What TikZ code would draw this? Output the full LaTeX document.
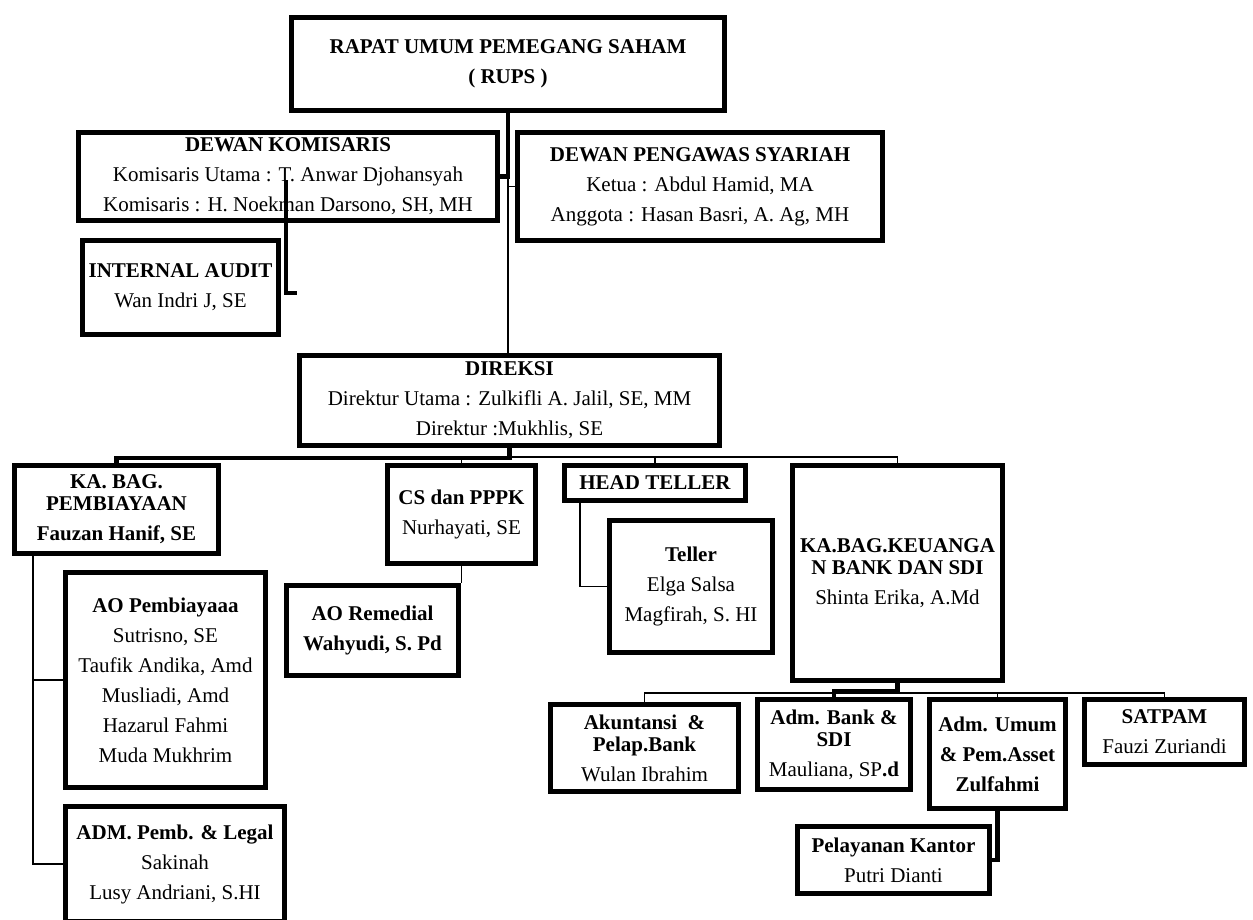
\documentclass[tikz,border=0pt]{standalone}
\usepackage{fontspec}
\setmainfont{Liberation Serif}

\tikzset{
  box/.style={draw, line width=3.2pt, inner sep=0pt, align=center,
              font=\fontsize{12.6}{18}\selectfont},
  thinln/.style={line width=0.9pt},
  thickln/.style={line width=2.8pt},
}

% \orgbox{name}{left}{top}{right}{bottom}{text}: a framed box given by its outer edges
\newcommand\orgbox[6]{%
  \pgfmathsetmacro\orgbw{(#4-#2-5.3)*0.6}%
  \pgfmathsetmacro\orgbh{(#5-#3-5.3)*0.6}%
  \node[box, minimum width=\orgbw pt, minimum height=\orgbh pt]
    (#1) at ({(#2+#4)/2},{(#3+#5)/2}) {#6};}

\begin{document}
\begin{tikzpicture}[x=0.6pt, y=-0.6pt]
  \fill[white] (0,0) rectangle (1253,919);
  \useasboundingbox (0,0) rectangle (1253,919);
  \clip (0,0) rectangle (1253,919);

  % boxes
  \orgbox{rups}{289}{15}{727}{113}{\textbf{RAPAT UMUM PEMEGANG SAHAM}\\\textbf{( RUPS )}}
  \orgbox{kom}{76}{130}{500}{223}{\textbf{DEWAN KOMISARIS}\\Komisaris Utama : T. Anwar Djohansyah\\Komisaris : H. Noekman Darsono, SH, MH}
  \orgbox{dps}{515}{130}{885}{243}{\textbf{DEWAN PENGAWAS SYARIAH}\\Ketua : Abdul Hamid, MA\\Anggota : Hasan Basri, A. Ag, MH}
  \orgbox{audit}{80}{238}{281}{337}{\textbf{INTERNAL AUDIT}\\Wan Indri J, SE}
  \orgbox{direksi}{297}{353}{722}{448}{\textbf{DIREKSI}\\Direktur Utama : Zulkifli A. Jalil, SE, MM\\Direktur :Mukhlis, SE}
  \orgbox{kabag}{12}{463}{221}{556}{\textbf{KA. BAG.}\\[-4.8pt]\textbf{PEMBIAYAAN}\\\textbf{Fauzan Hanif, SE}}
  \orgbox{aopemb}{63}{570}{268}{790}{\textbf{AO Pembiayaaa}\\Sutrisno, SE\\Taufik Andika, Amd\\Musliadi, Amd\\Hazarul Fahmi\\Muda Mukhrim}
  \orgbox{adm}{63}{804}{287}{924}{\textbf{ADM. Pemb. \& Legal}\\Sakinah\\Lusy Andriani, S.HI}
  \orgbox{cs}{385}{463}{538}{566}{\textbf{CS dan PPPK}\\Nurhayati, SE}
  \orgbox{aorem}{284}{583}{461}{678}{\textbf{AO Remedial}\\\textbf{Wahyudi, S. Pd}}
  \orgbox{headteller}{562}{463}{748}{503}{\textbf{HEAD TELLER}}
  \orgbox{teller}{607}{518}{775}{655}{\textbf{Teller}\\Elga Salsa\\Magfirah, S. HI}
  \orgbox{keu}{790}{463}{1005}{683}{\textbf{KA.BAG.KEUANGA}\\[-4.8pt]\textbf{N BANK DAN SDI}\\Shinta Erika, A.Md}
  \orgbox{akun}{548}{702}{741}{794}{\textbf{Akuntansi\ \ \&}\\[-4.8pt]\textbf{Pelap.Bank}\\Wulan Ibrahim}
  \orgbox{admbank}{755}{697}{913}{792}{\textbf{Adm. Bank \&}\\[-4.8pt]\textbf{SDI}\\Mauliana, SP\textbf{.d}}
  \orgbox{admumum}{927}{697}{1068}{811}{\textbf{Adm. Umum}\\\textbf{\& Pem.Asset}\\\textbf{Zulfahmi}}
  \orgbox{satpam}{1082}{697}{1247}{767}{\textbf{SATPAM}\\Fauzi Zuriandi}
  \orgbox{pel}{795}{824}{992}{896}{\textbf{Pelayanan Kantor}\\Putri Dianti}

  % RUPS to the boards and the directors
  \draw[thickln] (rups.south) |- (kom.east);
  \draw[thinln] (rups.south |- kom.east) -- (rups.south |- direksi.north);
  \draw[thinln] (rups.south |- dps.west) -- (dps.west);

  % board of commissioners to internal audit
  \coordinate (kbtop) at (286,180);
  \coordinate (kbend) at (297,293);
  \draw[thickln] (kbtop) |- (kbend);

  % directors to the departments
  \draw[thickln] (direksi.south) -- ++(0,10) -| (kabag.north);
  \draw[thinln] (direksi.south) ++(0,9) coordinate (dj) -| (keu.north);
  \draw[thinln] (dj -| headteller.north) -- (headteller.north);
  \draw[thinln] (dj -| cs.north) -- (cs.north);

  % financing department
  \draw[thinln] (33,0 |- kabag.south) -- (33,0 |- adm.west) -- (adm.west);
  \draw[thinln] (33,0 |- aopemb.west) -- (aopemb.west);

  % customer service and teller
  \draw[thinln] (cs.south) -- (cs.south |- aorem.north);
  \draw[thinln] (580,0 |- headteller.south) |- (teller.west);

  % finance department
  \draw[thickln] (keu.south) -- ++(0,8) -| (admbank.north);
  \draw[thinln] (keu.south) ++(0,10) coordinate (kj) -| (akun.north);
  \draw[thinln] (kj) -| (satpam.north);
  \draw[thinln] (kj -| admumum.north) -- (admumum.north);
  \draw[thickln] (admumum.south) |- (pel.east);
\end{tikzpicture}
\end{document}
